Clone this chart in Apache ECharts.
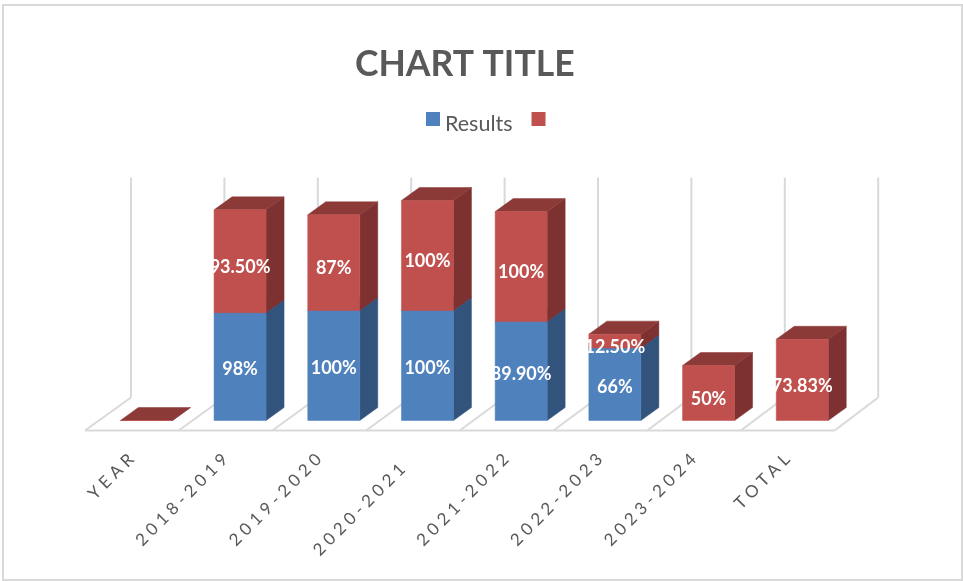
<!DOCTYPE html>
<html>
<head>
<meta charset="utf-8">
<style>html,body{margin:0;padding:0;background:#fff}#c{width:963px;height:581px}</style>
<script src="https://cdn.jsdelivr.net/npm/echarts@6/dist/echarts.min.js"></script>
</head>
<body>
<div id="c"></div>
<script>
const categories = ['YEAR','2018-2019','2019-2020','2020-2021','2021-2022','2022-2023','2023-2024','TOTAL'];
const resultsValues = [null,98,100,100,89.9,66,null,null];
const otherValues = [0,93.5,87,100,100,12.5,50,73.83];
const resultsLabels = ['','98%','100%','100%','89.90%','66%','',''];
const otherLabels = ['','93.50%','87%','100%','100%','12.50%','50%','73.83%'];

// Excel-style wide tracking for the axis labels (marked by their 17px font size)
const AXIS_FONT_SIZE = 17, AXIS_TRACKING = '4.6px';
const nativeFill = CanvasRenderingContext2D.prototype.fillText;
CanvasRenderingContext2D.prototype.fillText = function (t, x, y, m) {
  this.letterSpacing = this.font.indexOf(AXIS_FONT_SIZE + 'px') === 0 ? AXIS_TRACKING : '0px';
  return m === undefined ? nativeFill.call(this, t, x, y) : nativeFill.call(this, t, x, y, m);
};

const GRID_COLOR = '#D9D9D9', TEXT_COLOR = '#595959';
const BAR_DX = 18, BAR_DY = -13, BAR_RATIO = 0.555;
const FLOOR_FRONT = {dx: -14.5, dy: 10}, FLOOR_BACK = {dx: 31.5, dy: -23}, BACK_SHRINK = 0.3;

function frameItem(params, api) {
  const n = categories.length;
  const band = api.size([1, 0])[0];
  const i = params.dataIndex;
  const y0 = api.coord([i, 0])[1], yTop = api.coord([i, 200])[1];
  const line = (x1, y1, x2, y2) => ({type: 'line', shape: {x1, y1, x2, y2}, style: {stroke: GRID_COLOR, lineWidth: 2, fill: null}});
  const kids = [];
  const left = api.coord([i, 0])[0] - band / 2;
  const fx = left + FLOOR_FRONT.dx, bx = left + FLOOR_BACK.dx - BACK_SHRINK * i;
  kids.push(line(fx, y0 + FLOOR_FRONT.dy, bx, y0 + FLOOR_BACK.dy));
  kids.push(line(bx, y0 + FLOOR_BACK.dy, bx, yTop + FLOOR_BACK.dy));
  if (i === n - 1) {
    const right = left + band;
    const rfx = right + FLOOR_FRONT.dx, rbx = right + FLOOR_BACK.dx - BACK_SHRINK * n;
    kids.push(line(rfx, y0 + FLOOR_FRONT.dy, rbx, y0 + FLOOR_BACK.dy));
    kids.push(line(rbx, y0 + FLOOR_BACK.dy, rbx, yTop + FLOOR_BACK.dy));
    kids.push(line(api.coord([0, 0])[0] - band / 2 + FLOOR_FRONT.dx, y0 + FLOOR_FRONT.dy, rfx, y0 + FLOOR_FRONT.dy));
  }
  return {type: 'group', children: kids};
}

function boxItem(front, side, top, labelShift) {
  return function (params, api) {
    const v = api.value(2);
    if (isNaN(v)) return;
    const i = api.value(0), base = api.value(1);
    const c0 = api.coord([i, base]), c1 = api.coord([i, base + v]);
    const w = api.size([1, 0])[0] * BAR_RATIO;
    const x0 = c0[0] - w / 2, x1 = c0[0] + w / 2, y0 = c0[1], y1 = c1[1];
    const poly = (points, fill) => ({type: 'polygon', shape: {points}, style: {fill, stroke: fill, lineWidth: 0.5}});
    const kids = [
      poly([[x1, y0], [x1 + BAR_DX, y0 + BAR_DY], [x1 + BAR_DX, y1 + BAR_DY], [x1, y1]], side),
      poly([[x0, y1], [x1, y1], [x1 + BAR_DX, y1 + BAR_DY], [x0 + BAR_DX, y1 + BAR_DY]], top),
      poly([[x0, y0], [x1, y0], [x1, y1], [x0, y1]], front)
    ];
    const text = api.value(3);
    if (text) kids.push({
      type: 'text', z2: 50,
      style: {x: c0[0], y: (y0 + y1) / 2 + labelShift, text, fill: '#fff', align: 'center', verticalAlign: 'middle',
        font: 'bold 18px Lato'}
    });
    return {type: 'group', children: kids};
  };
}

const resultsData = categories.map((c, i) => [i, 0, resultsValues[i] == null ? NaN : resultsValues[i], resultsLabels[i]]);
const otherData = categories.map((c, i) => [i, resultsValues[i] || 0, otherValues[i], otherLabels[i]]);

const chart = echarts.init(document.getElementById('c'), null, {renderer: 'canvas'});
chart.setOption({
  animation: false,
  backgroundColor: '#fff',
  title: {text: 'CHART TITLE', left: 355, top: 47, padding: 0,
    textStyle: {fontFamily: 'Lato', fontWeight: 'bold', fontSize: 35.5, color: TEXT_COLOR}},
  legend: {left: 426, top: 112, padding: 0, itemWidth: 14, itemHeight: 14, itemGap: 19, icon: 'rect', selectedMode: false,
    data: ['Results', ' '],
    formatter: '{a|{name}}',
    textStyle: {fontFamily: 'Lato', fontSize: 21.5, color: TEXT_COLOR,
      rich: {a: {fontFamily: 'Lato', fontSize: 21.5, color: TEXT_COLOR, padding: [10, 0, 0, 0]}}}},
  graphic: [{type: 'rect', silent: true, shape: {x: 3, y: 5, width: 959, height: 575},
    style: {fill: null, stroke: GRID_COLOR, lineWidth: 2}}],
  grid: {left: 99.5, top: 200.5, width: 749.6, height: 220},
  xAxis: {type: 'category', data: categories.map(c => c === '2020-2021'
      ? {value: c, textStyle: {padding: [0, 31, 0, 0]}} : c),
    axisLine: {show: false}, axisTick: {show: false}, splitLine: {show: false},
    axisLabel: {interval: 0, rotate: 45, margin: 21, padding: [0, 17, 0, 0],
      fontFamily: 'Lato', fontSize: AXIS_FONT_SIZE, color: TEXT_COLOR}},
  yAxis: {type: 'value', min: 0, max: 200, show: false},
  series: [
    {type: 'custom', name: 'frame', silent: true, data: categories.map((c, i) => [i, 0]), renderItem: frameItem, encode: {x: 0, y: 1}, z: 1},
    {type: 'custom', name: 'Results', silent: true, itemStyle: {color: '#4F81BD'}, data: resultsData,
      renderItem: boxItem('#4F81BD', '#32547C', '#3A6394', 3), encode: {x: 0, y: 2}, z: 2},
    {type: 'custom', name: ' ', silent: true, itemStyle: {color: '#C0504D'}, data: otherData,
      renderItem: boxItem('#C0504D', '#7D3130', '#8C3A38', 6), encode: {x: 0, y: 2}, z: 3}
  ]
});
</script>
</body>
</html>
